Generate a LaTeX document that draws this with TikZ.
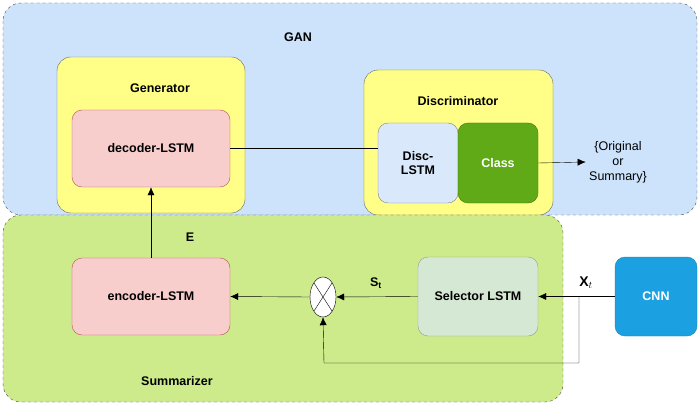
\documentclass[tikz,border=0pt]{standalone}
\usepackage{fontspec}
\setmainfont{Liberation Sans}
\usetikzlibrary{arrows.meta,shapes.geometric}
\definecolor{ganbg}{HTML}{CCE3FB}
\definecolor{sumbg}{HTML}{CDEB8B}
\definecolor{yel}{HTML}{FFFF88}
\definecolor{pinkf}{HTML}{F8CECC}
\definecolor{pinkd}{HTML}{B85450}
\definecolor{lblue}{HTML}{DAE8FC}
\definecolor{classg}{HTML}{60A917}
\definecolor{selg}{HTML}{D5E8D4}
\definecolor{cnnb}{HTML}{1BA1E2}
\begin{document}
\begin{tikzpicture}[x=1pt,y=-1pt,font=\bfseries\fontsize{12.5}{14}\selectfont,
  region/.style={draw=black!70,dashed,rounded corners=18pt},
  ybox/.style={draw=black!60,fill=yel,rounded corners=14pt},
  blk/.style={draw,rounded corners=10pt,minimum width=#1,align=center,inner sep=0pt},
  arr/.style={-{Latex[length=8pt,width=7pt]}}]
\useasboundingbox (0,0) rectangle (700,406);
\draw[region,fill=ganbg] (3,3) rectangle (697,215);
\node (gan) at (298,37) {GAN};
\draw[ybox] (57,57) rectangle (245,213);
\node (gen) at (160,88) {Generator};
\draw[ybox] (364,70) rectangle (553,215);
\node (disc) at (458,101) {Discriminator};
\draw[region,fill=sumbg] (3,215) rectangle (563,402);
\node (e) at (190,237) {E};
\node (summ) at (177,381) {Summarizer};
\node[blk=158pt,minimum height=77pt,fill=pinkf,draw=pinkd] (dec) at (151,148.5) {decoder-LSTM};
\node[blk=80pt,minimum height=80pt,fill=lblue,draw=black!50] (dl) at (418,163) {Disc-\\LSTM};
\node[blk=80pt,minimum height=80pt,fill=classg,draw=classg!70!black,text=white] (cl) at (498,163) {Class};
\node[align=center,font=\fontsize{12.5}{15}\selectfont] (out) at (618,162) {\{Original\\or\\Summary\}};
\node[blk=158pt,minimum height=77pt,fill=pinkf,draw=pinkd] (enc) at (151,296.5) {encoder-LSTM};
\node[blk=120pt,minimum height=79pt,fill=selg,draw=black!40] (sel) at (478,296.5) {Selector LSTM};
\node[blk=82pt,minimum height=79pt,fill=cnnb,draw=cnnb!80!black,text=white] (cnn) at (656,296.5) {CNN};
\node[draw,fill=white,ellipse,minimum width=26pt,minimum height=40pt,inner sep=0pt] (m) at (323,297) {};
\draw ([shift={(-9,-14)}]m.center) -- ([shift={(9,14)}]m.center) ([shift={(9,-14)}]m.center) -- ([shift={(-9,14)}]m.center);
\node (st) at (376,283) {S$_\mathbf{t}$};
\node[font=\fontsize{14}{14}\selectfont] (xt) at (586,283) {\textbf{X}$_t$};
\coordinate (br) at (579,297);
\draw (dec.east) -- (dec.east -| dl.west);
\draw[arr] (cl.east) -- (out.west);
\draw[arr] (enc.north) -- (dec.south);
\draw[arr] (cnn.west) -- (sel.east);
\draw[arr] (sel.west) -- (m.east);
\draw[arr] (m.west) -- (enc.east);
\draw[arr] (br) -- (579,363) -- (324,363) -- (m.south);
\end{tikzpicture}
\end{document}
